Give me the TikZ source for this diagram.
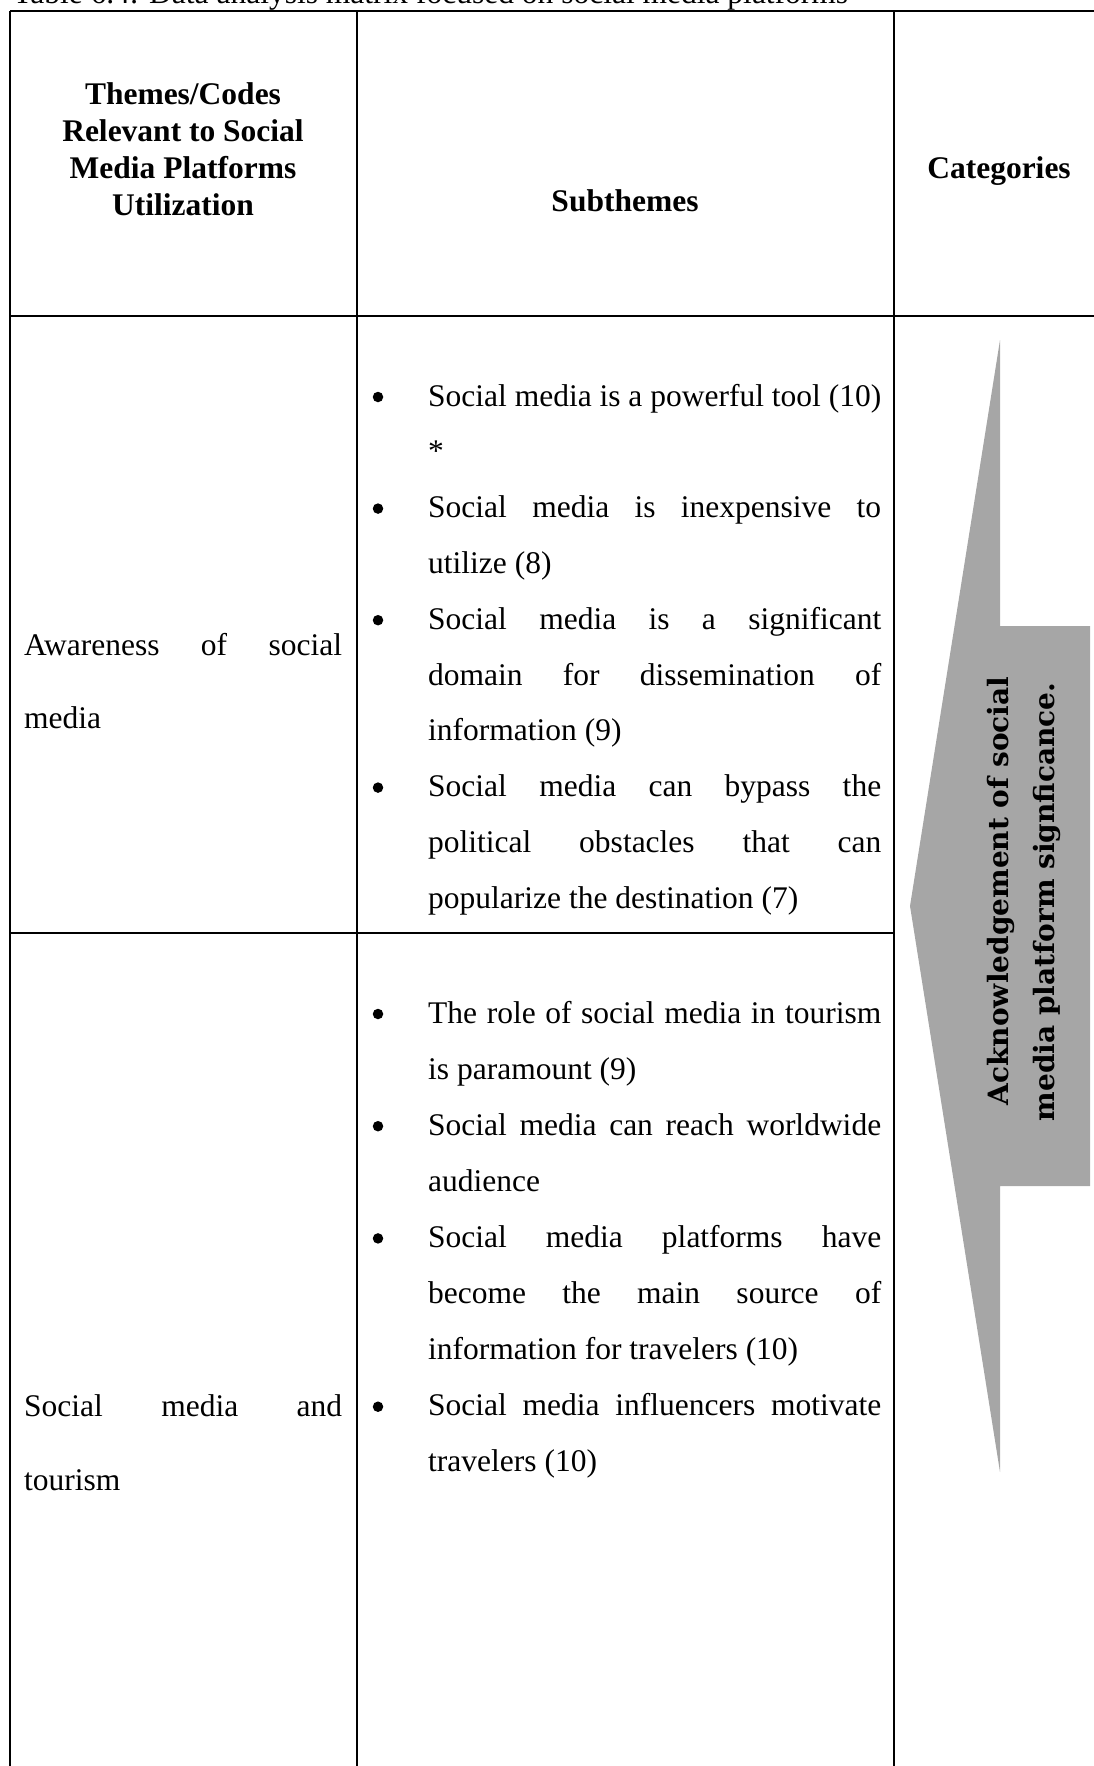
\documentclass[tikz,border=0pt]{standalone}
\usepackage{fontspec}
\setmainfont{Liberation Serif}
\newfontfamily\arrowfont{DejaVu Serif}
\definecolor{arrowgray}{RGB}{166,166,166}
% one line of a justified paragraph in the subthemes column
\newcommand\justline[1]{\makebox[453pt][s]{#1}}
% one line of a justified paragraph in the themes column
\newcommand\themeline[1]{\makebox[318pt][s]{#1}}
\begin{document}
\begin{tikzpicture}[x=1pt,y=-1pt,
  rule/.style={line width=2pt, black},
  body/.style={font=\fontsize{31.5pt}{37pt}\selectfont, inner sep=0pt, anchor=base west},
  head/.style={font=\fontsize{31.5pt}{37pt}\selectfont\bfseries, inner sep=0pt, anchor=base},
  bul/.style={circle, fill=black, inner sep=0pt, minimum size=10.5pt, yshift=9pt},
  catlabel/.style={font=\arrowfont\bfseries\fontsize{28pt}{34pt}\selectfont, inner sep=0pt, anchor=base, rotate=90, text=black}
]
\useasboundingbox (0,0) rectangle (1094,1766);
\clip (0,0) rectangle (1094,1766);

% caption above the table
\node[body] (caption) at (13,4) {Table 6.4: Data analysis matrix focused on social media platforms};

% table rules
\draw[rule] (10,11.5) -- (1110,11.5);
\draw[rule, line width=2.4pt] (10,316) -- (1110,316);
\draw[rule] (10,11.5) -- (10,1770);
\draw[rule] (357,11.5) -- (357,1770);
\draw[rule] (894,11.5) -- (894,1770);
\draw[rule] (10,933) -- (894,933);

% header row
\node[head] (h1a) at (183,105) {Themes/Codes};
\node[head] (h1b) at (183,141.7) {Relevant to Social};
\node[head] (h1c) at (183,178.4) {Media Platforms};
\node[head] (h1d) at (183,215) {Utilization};
\node[head] (h2) at (625,211) {Subthemes};
\node[head] (h3) at (999,178) {Categories};

% themes column
\node[body] (t1a) at (24,655) {\themeline{Awareness of social}};
\node[body] (t1b) at (24,728) {media};
\node[body] (t2a) at (24,1416) {\themeline{Social media and}};
\node[body] (t2b) at (24,1490) {tourism};

% subthemes, first row
\node[bul] (b11) at (378,406) {};
\node[body] (s11a) at (428,406) {\justline{Social media is a powerful tool (10)}};
\node[body] (s11b) at (428,461.8) {*};
\node[bul] (b12) at (378,517.6) {};
\node[body] (s12a) at (428,517.6) {\justline{Social media is inexpensive to}};
\node[body] (s12b) at (428,573.4) {utilize (8)};
\node[bul] (b13) at (378,629.2) {};
\node[body] (s13a) at (428,629.2) {\justline{Social media is a significant}};
\node[body] (s13b) at (428,685) {\justline{domain for dissemination of}};
\node[body] (s13c) at (428,740.8) {information (9)};
\node[bul] (b14) at (378,796.6) {};
\node[body] (s14a) at (428,796.6) {\justline{Social media can bypass the}};
\node[body] (s14b) at (428,852.4) {\justline{political obstacles that can}};
\node[body] (s14c) at (428,908.2) {popularize the destination (7)};

% subthemes, second row
\node[bul] (b21) at (378,1023) {};
\node[body] (s21a) at (428,1023) {\justline{The role of social media in tourism}};
\node[body] (s21b) at (428,1079.1) {is paramount (9)};
\node[bul] (b22) at (378,1135.2) {};
\node[body] (s22a) at (428,1135.2) {\justline{Social media can reach worldwide}};
\node[body] (s22b) at (428,1191.3) {audience};
\node[bul] (b23) at (378,1247.4) {};
\node[body] (s23a) at (428,1247.4) {\justline{Social media platforms have}};
\node[body] (s23b) at (428,1303.5) {\justline{become the main source of}};
\node[body] (s23c) at (428,1359.6) {information for travelers (10)};
\node[bul] (b24) at (378,1415.7) {};
\node[body] (s24a) at (428,1415.7) {\justline{Social media influencers motivate}};
\node[body] (s24b) at (428,1471.8) {travelers (10)};

% category arrow pointing back at the subthemes
\fill[arrowgray] (1000,340) -- (910,906) -- (1000,1472) -- (1000,1186)
  -- (1090,1186) -- (1090,626) -- (1000,626) -- cycle;
\node[catlabel] (cat1) at (1008,891) {Acknowledgement of social};
\node[catlabel] (cat2) at (1054,902) {media platform signficance.};
\end{tikzpicture}
\end{document}
